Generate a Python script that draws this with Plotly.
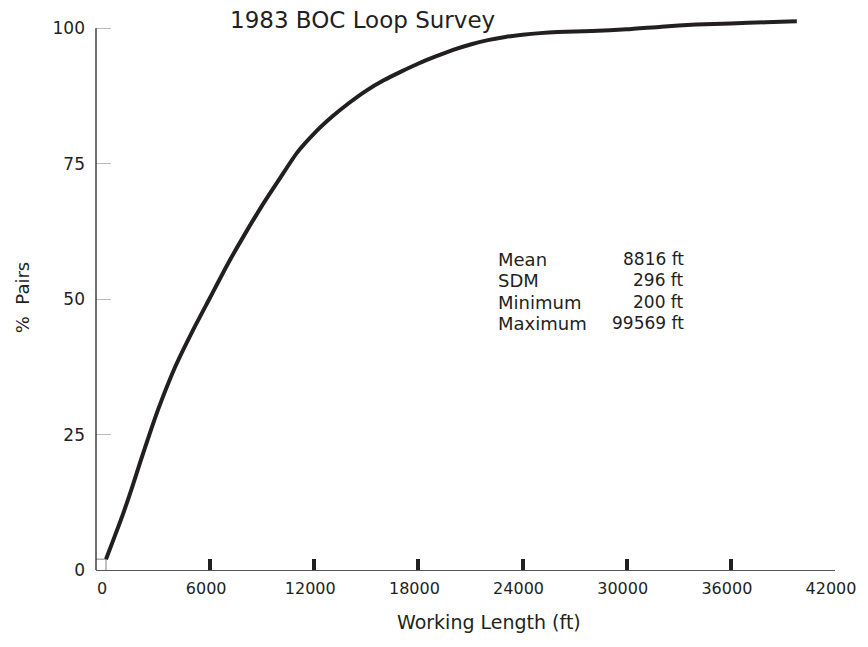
import plotly.graph_objects as go

# ---- data ----
length_ft = [0, 500, 1000, 1500, 2000, 2500, 3000, 4000, 5000, 6000, 7000, 8000,
             9000, 10000, 11000, 12000, 13000, 14000, 15000, 16000, 17000, 18000,
             19000, 20000, 21000, 22000, 23000, 24000, 25000, 26000, 27000, 28000,
             30000, 32000, 34000, 36000, 38000, 39800]
pct_pairs = [2.0, 6.2, 10.5, 15.2, 20.2, 25.0, 29.6, 37.6, 44.2, 50.3, 56.4, 62.0,
             67.3, 72.2, 77.0, 80.6, 83.6, 86.2, 88.5, 90.4, 92.0, 93.5,
             94.8, 96.0, 97.0, 97.8, 98.4, 98.8, 99.1, 99.3, 99.4, 99.5,
             99.8, 100.3, 100.7, 100.9, 101.1, 101.3]

x_ticks = [0, 6000, 12000, 18000, 24000, 30000, 36000, 42000]
x_major_marks = [6000, 12000, 18000, 24000, 30000, 36000]
x_end_mark = [42000]
y_ticks = [0, 25, 50, 75, 100]

title = "1983 BOC Loop Survey"
x_title = "Working Length (ft)"
y_title = "%  Pairs"
stat_names = ["Mean", "SDM", "Minimum", "Maximum"]
stat_values = ["8816 ft", "296 ft", "200 ft", "99569 ft"]

X_MIN = -576
X_MAX = 42000
Y_MAX = 103

FONT = "DejaVu Sans"
INK = "#231f20"

fig = go.Figure()

# drop lines from first point to the axes (small box at origin)
fig.add_trace(go.Scatter(
    x=[X_MIN, length_ft[0], length_ft[0]],
    y=[pct_pairs[0], pct_pairs[0], 0],
    mode="lines", line=dict(color="#808080", width=1),
    hoverinfo="skip", showlegend=False))

fig.add_trace(go.Scatter(
    x=length_ft, y=pct_pairs, mode="lines",
    line=dict(color=INK, width=4, shape="spline", smoothing=0.6),
    showlegend=False))

# y axis line only up to 100
fig.add_shape(type="line", xref="paper", yref="y", x0=0, x1=0, y0=0, y1=100,
              line=dict(color=INK, width=1.3))

# page body has an 8px margin: figure is placed at (8, 8) and fits the page
fig.update_layout(
    width=852, height=626,
    margin=dict(l=88, r=23, t=4, b=64),
    paper_bgcolor="white", plot_bgcolor="white",
    font=dict(family=FONT, color=INK, size=17),
    xaxis=dict(range=[X_MIN, X_MAX], tickvals=x_ticks,
               ticktext=[str(v) for v in x_ticks],
               showgrid=False, zeroline=False, showline=True,
               linecolor="#555555", linewidth=1.3, ticks="",
               tickfont=dict(size=16, family=FONT), ticklabelstandoff=4,
               ticklabelshift=-4),
    xaxis2=dict(range=[X_MIN, X_MAX], overlaying="x", tickvals=x_major_marks,
                ticks="inside", ticklen=11, tickwidth=3.5, tickcolor=INK,
                showticklabels=False, showgrid=False, zeroline=False,
                showline=False),
    xaxis3=dict(range=[X_MIN, X_MAX], overlaying="x", tickvals=x_end_mark,
                ticks="inside", ticklen=11, tickwidth=1, tickcolor="#808080",
                showticklabels=False, showgrid=False, zeroline=False,
                showline=False),
    yaxis=dict(range=[0, Y_MAX], tickvals=y_ticks,
               ticktext=[str(v) for v in y_ticks],
               showgrid=False, zeroline=False, showline=False,
               ticks="inside", ticklen=15, tickwidth=1, tickcolor="#bbbbbb",
               tickfont=dict(size=17, family=FONT), ticklabelstandoff=10),
)

# dummy traces so overlay axes are drawn
fig.add_trace(go.Scatter(x=[None], y=[None], xaxis="x2", showlegend=False))
fig.add_trace(go.Scatter(x=[None], y=[None], xaxis="x3", showlegend=False))

# helpers: convert reference-screenshot pixels to paper coords
def px_x(px):
    return (px - 96) / 741.0

def px_y(py):
    return (570 - py) / 558.0

fig.add_annotation(text=title, xref="paper", yref="paper",
                   x=px_x(363), y=px_y(20), showarrow=False,
                   xanchor="center", yanchor="middle",
                   font=dict(size=23, family=FONT, color=INK))
fig.add_annotation(text=x_title, xref="paper", yref="paper",
                   x=px_x(490), y=px_y(622), showarrow=False,
                   xanchor="center", yanchor="middle",
                   font=dict(size=19, family=FONT, color=INK))
fig.add_annotation(text=y_title, xref="paper", yref="paper",
                   x=px_x(22), y=px_y(298), showarrow=False, textangle=-90,
                   xanchor="center", yanchor="middle",
                   font=dict(size=18, family=FONT, color=INK))

row_centers = [259, 280, 302, 323]
for name, val, yc in zip(stat_names, stat_values, row_centers):
    fig.add_annotation(text=name, xref="paper", yref="paper",
                       x=px_x(497), y=px_y(yc), showarrow=False,
                       xanchor="left", yanchor="middle",
                       font=dict(size=18, family=FONT, color=INK))
    fig.add_annotation(text=val, xref="paper", yref="paper",
                       x=px_x(688), y=px_y(yc), showarrow=False,
                       xanchor="right", yanchor="middle",
                       font=dict(size=17, family=FONT, color=INK))

fig.write_html("out.html")
